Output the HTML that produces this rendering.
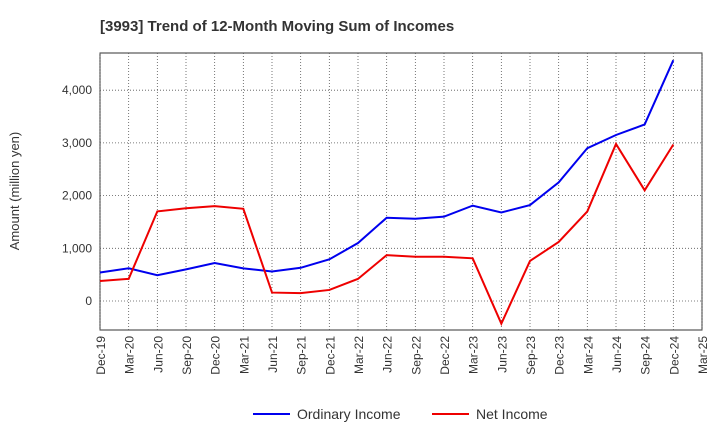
<!DOCTYPE html>
<html><head><meta charset="utf-8"><style>
body{margin:0;background:#fff;font-family:"Liberation Sans",Arial,sans-serif}
</style></head><body>
<svg id="chart" width="720" height="440" xmlns="http://www.w3.org/2000/svg">
<text x="100" y="31" font-size="15" font-weight="bold" fill="#333">[3993]  Trend of 12-Month Moving Sum of Incomes</text>
<rect x="100" y="53" width="602" height="277" fill="#fff" stroke="#333" stroke-width="1"/>
<g id="grid"></g><g id="axes"></g><g id="series"></g>
<text transform="translate(19,191) rotate(-90)" text-anchor="middle" font-size="13" fill="#333">Amount (million yen)</text>
<g>
<line x1="253" y1="414" x2="290" y2="414" stroke="#0000ee" stroke-width="2"/>
<text x="297" y="419" font-size="14" fill="#333">Ordinary Income</text>
<line x1="432" y1="414" x2="469" y2="414" stroke="#ee0000" stroke-width="2"/>
<text x="476" y="419" font-size="14" fill="#333">Net Income</text>
</g>
</svg>
<script>
const categories=["Dec-19","Mar-20","Jun-20","Sep-20","Dec-20","Mar-21","Jun-21","Sep-21","Dec-21","Mar-22","Jun-22","Sep-22","Dec-22","Mar-23","Jun-23","Sep-23","Dec-23","Mar-24","Jun-24","Sep-24","Dec-24","Mar-25"];
const ordinaryIncome=[540,620,490,600,720,620,560,630,790,1100,1580,1560,1600,1810,1680,1820,2250,2900,3150,3350,4570];
const netIncome=[380,420,1700,1760,1800,1750,160,150,210,420,870,840,840,810,-430,760,1120,1700,2980,2100,2970];
const yTicks=[0,1000,2000,3000,4000];
const yTickLabels=["0","1,000","2,000","3,000","4,000"];
const NS="http://www.w3.org/2000/svg";
const x0=100,x1=702,yTop=53,yBot=330;
const xs=i=>x0+i*(x1-x0)/(categories.length-1);
const ys=v=>301-v*0.0527;
function mk(tag,attrs,parent){const e=document.createElementNS(NS,tag);for(const k in attrs)e.setAttribute(k,attrs[k]);parent.appendChild(e);return e;}
const grid=document.getElementById('grid'),axes=document.getElementById('axes'),series=document.getElementById('series');
categories.forEach((c,i)=>{
 const x=xs(i);
 const g=mk('line',{x1:x,x2:x,y1:yTop,y2:yBot,stroke:'#555','stroke-width':0.8,'stroke-dasharray':'1,2'},grid);
 
 
 const t=mk('text',{transform:`translate(${x+5},336) rotate(-90)`,'text-anchor':'end','font-size':12,fill:'#333'},axes);
 t.textContent=c;
 
 
});
yTicks.forEach((v,i)=>{
 const y=ys(v);
 const g=mk('line',{x1:x0,x2:x1,y1:y,y2:y,stroke:'#555','stroke-width':0.8,'stroke-dasharray':'1,2'},grid);
 
 
 const t=mk('text',{x:92,y:y+4,'text-anchor':'end','font-size':12,fill:'#333'},axes);
 t.textContent=yTickLabels[i];
 
 
});
function line(data,color,name){
 const p=mk('polyline',{points:data.map((v,i)=>xs(i)+','+ys(v)).join(' '),fill:'none',stroke:color,'stroke-width':2},series);
 
 
}
line(ordinaryIncome,'#0000ee','ordinary-income-line');
line(netIncome,'#ee0000','net-income-line');
</script>
</body></html>
